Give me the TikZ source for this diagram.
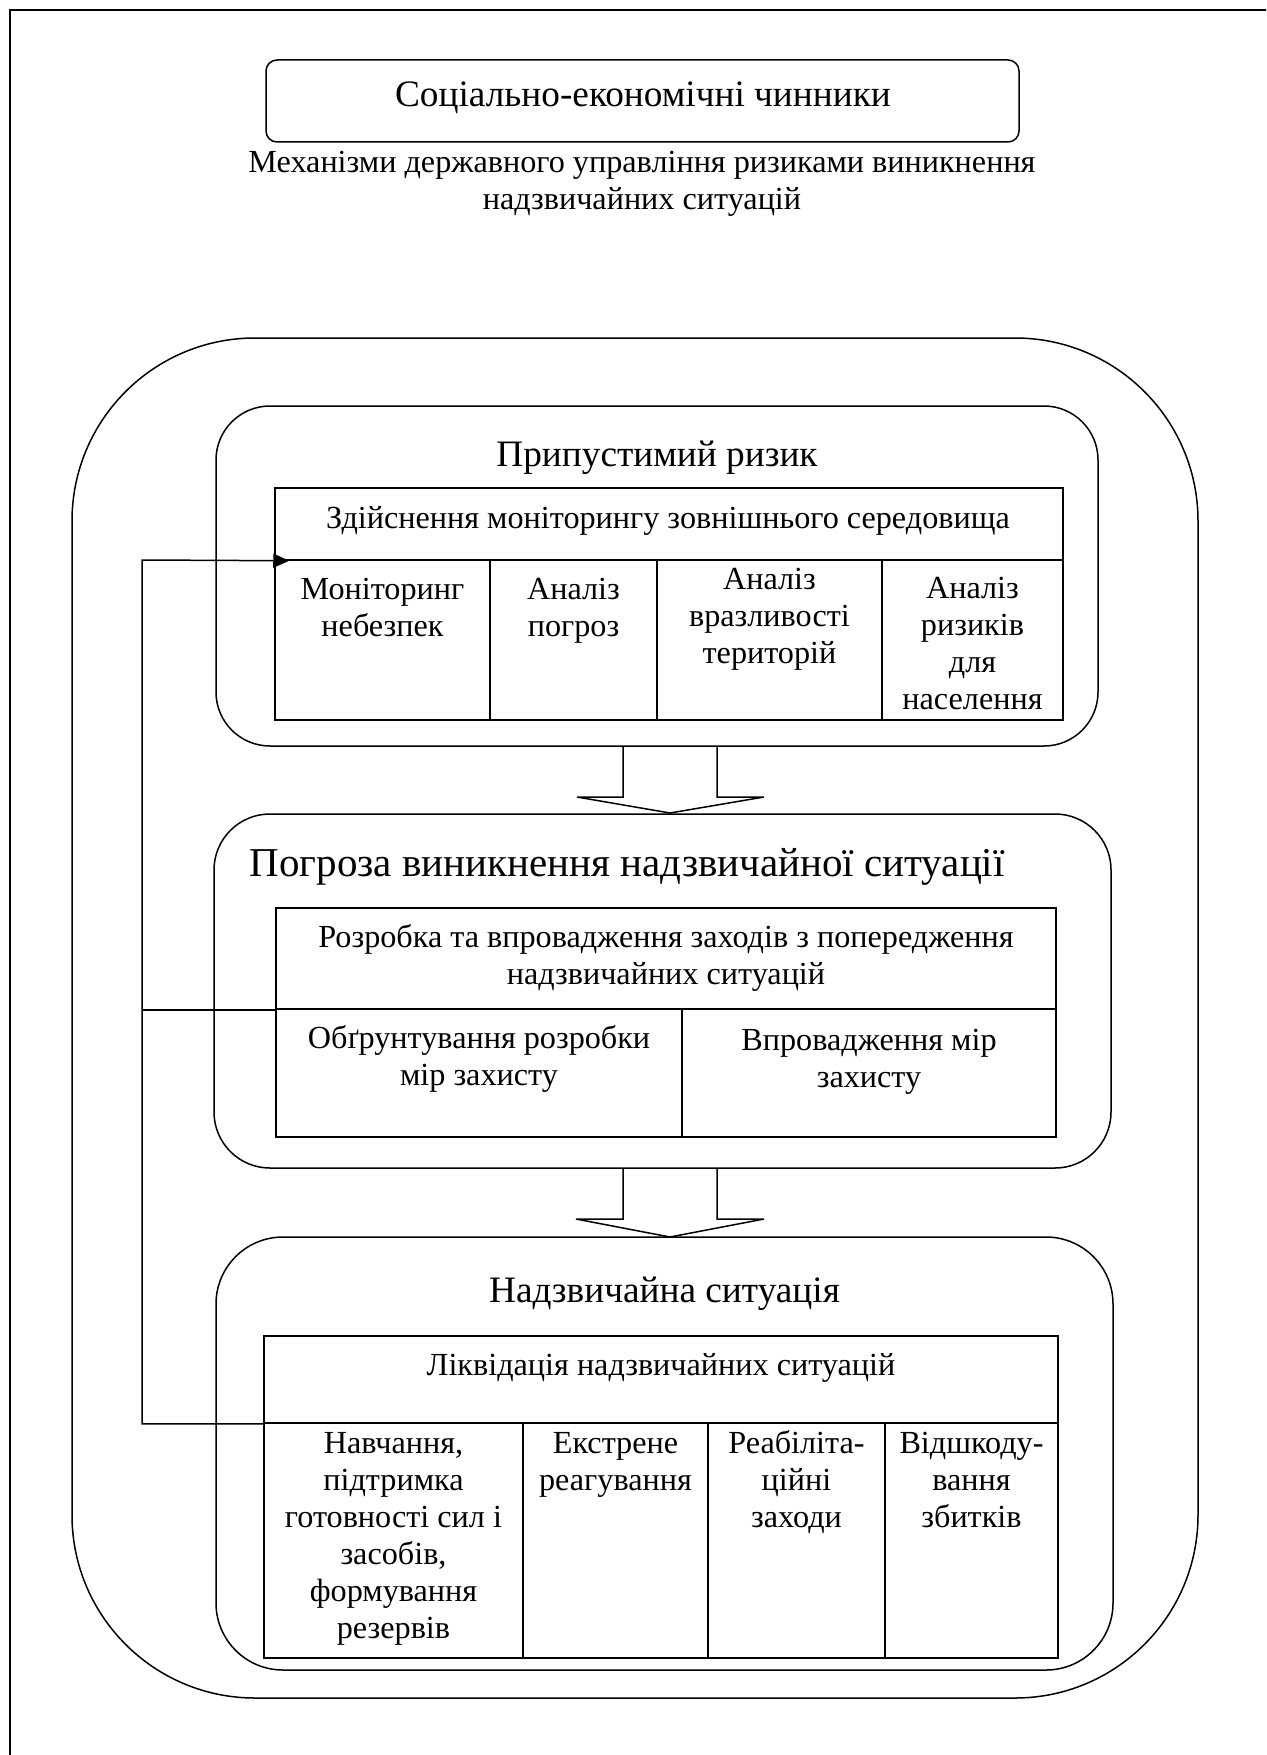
\documentclass[tikz,border=0pt]{standalone}
\usepackage{fontspec}
\setmainfont{Liberation Serif}
\usetikzlibrary{arrows.meta}
\begin{document}
\begin{tikzpicture}[x=1pt,y=-1pt,
  lw/.style={line width=1.5pt},
  rbox/.style={draw, line width=1.5pt, inner sep=0pt, rectangle},
  cell/.style={draw, line width=1.5pt, inner sep=0pt, rectangle},
  body/.style={font=\fontsize{32.2}{37}\selectfont, inner sep=0pt, align=center},
  ttl/.style={font=\fontsize{37.3}{44}\selectfont, inner sep=0pt},
  bigttl/.style={font=\fontsize{41}{48}\selectfont, inner sep=0pt},
]
\useasboundingbox (0,0) rectangle (1266,1755);
\clip (0,0) rectangle (1266,1755);
% page frame
\draw[lw] (10,10) rectangle (1300,1800);

% top box and caption
\node[rbox, rounded corners=11pt, minimum width=753pt, minimum height=82pt] (top) at (642.5,101) {};
\node[ttl, anchor=base] (toptxt) at (643,107) {Соціально-економічні чинники};
\node[body, anchor=north] (mech) at (642,146.1) {\strut Механізми державного управління ризиками виникнення\\надзвичайних ситуацій};

% big outer rounded box
\node[rbox, rounded corners=183pt, minimum width=1126pt, minimum height=1360pt] (outer) at (635,1018) {};

% box 1
\node[rbox, rounded corners=54pt, minimum width=882pt, minimum height=340pt] (b1) at (657,576) {};
\node[ttl, anchor=base] (b1t) at (657,466) {Припустимий ризик};
\node[cell, minimum width=788pt, minimum height=72pt] (t1h) at (669,524) {};
\node[body, anchor=base] (t1ht) at (668,528) {Здійснення моніторингу зовнішнього середовища};
\node[cell, minimum width=215pt, minimum height=160pt] (t1a) at (382.5,640) {};
\node[cell, minimum width=167pt, minimum height=160pt] (t1b) at (573.5,640) {};
\node[cell, minimum width=225pt, minimum height=160pt] (t1c) at (769.5,640) {};
\node[cell, minimum width=181pt, minimum height=160pt] (t1d) at (972.5,640) {};
\node[body, anchor=north] (t1at) at (382.5,573.1) {\strut Моніторинг\\небезпек};
\node[body, anchor=north] (t1bt) at (573.5,573.1) {\strut Аналіз\\погроз};
\node[body, anchor=north] (t1ct) at (769.5,563.1) {\strut Аналіз\\вразливості\\територій};
\node[body, anchor=north] (t1dt) at (972.5,572.1) {\strut Аналіз\\ризиків\\для\\населення};

% hollow arrow 1
\draw[lw] (623,746) -- (623,797) -- (577,797) -- (670,813) -- (764,797) -- (717,797) -- (717,746);

% box 2
\node[rbox, rounded corners=56pt, minimum width=897pt, minimum height=354pt] (b2) at (662.5,991) {};
\node[bigttl, anchor=base east] (b2t) at (1005,876) {Погроза виникнення надзвичайної ситуації};
\node[cell, minimum width=780pt, minimum height=101pt] (t2h) at (666,958.5) {};
\node[body, anchor=north] (t2ht) at (666,921.1) {\strut Розробка та впровадження заходів з попередження\\надзвичайних ситуацій};
\node[cell, minimum width=406pt, minimum height=128pt] (t2a) at (479,1073) {};
\node[cell, minimum width=374pt, minimum height=128pt] (t2b) at (869,1073) {};
\node[body, anchor=north] (t2at) at (479,1022.1) {\strut Обґрунтування розробки\\мір захисту};
\node[body, anchor=north] (t2bt) at (869,1024.1) {\strut Впровадження мір\\захисту};

% hollow arrow 2
\draw[lw] (623,1168) -- (623,1219) -- (576,1219) -- (670,1237) -- (764,1219) -- (717,1219) -- (717,1168);

% box 3
\node[rbox, rounded corners=67pt, minimum width=897pt, minimum height=433pt] (b3) at (664.5,1453.5) {};
\node[ttl, anchor=base] (b3t) at (664.5,1302) {Надзвичайна ситуація};
\node[cell, minimum width=794pt, minimum height=87pt] (t3h) at (661,1379.5) {};
\node[body, anchor=base] (t3ht) at (661,1375) {Ліквідація надзвичайних ситуацій};
\node[cell, minimum width=259pt, minimum height=235pt] (t3a) at (393.5,1540.5) {};
\node[cell, minimum width=185pt, minimum height=235pt] (t3b) at (615.5,1540.5) {};
\node[cell, minimum width=177pt, minimum height=235pt] (t3c) at (796.5,1540.5) {};
\node[cell, minimum width=173pt, minimum height=235pt] (t3d) at (971.5,1540.5) {};
\node[body, anchor=north] (t3at) at (393.5,1427.1) {\strut Навчання,\\підтримка\\готовності сил і\\засобів,\\формування\\резервів};
\node[body, anchor=north] (t3bt) at (615.5,1427.1) {\strut Екстрене\\реагування};
\node[body, anchor=north] (t3ct) at (796.5,1427.1) {\strut Реабіліта-\\ційні\\заходи};
\node[body, anchor=north] (t3dt) at (971.5,1427.1) {\strut Відшкоду-\\вання\\збитків};

% feedback connector
\coordinate (ret) at (142,560);
\draw[lw, -{Triangle[length=16pt,width=14pt]}] (t3h.south west) -| (ret) -- ([xshift=15pt]t1h.south west);
\draw[lw] (t2h.south west) -- (ret |- t2h.south west);
\end{tikzpicture}
\end{document}
